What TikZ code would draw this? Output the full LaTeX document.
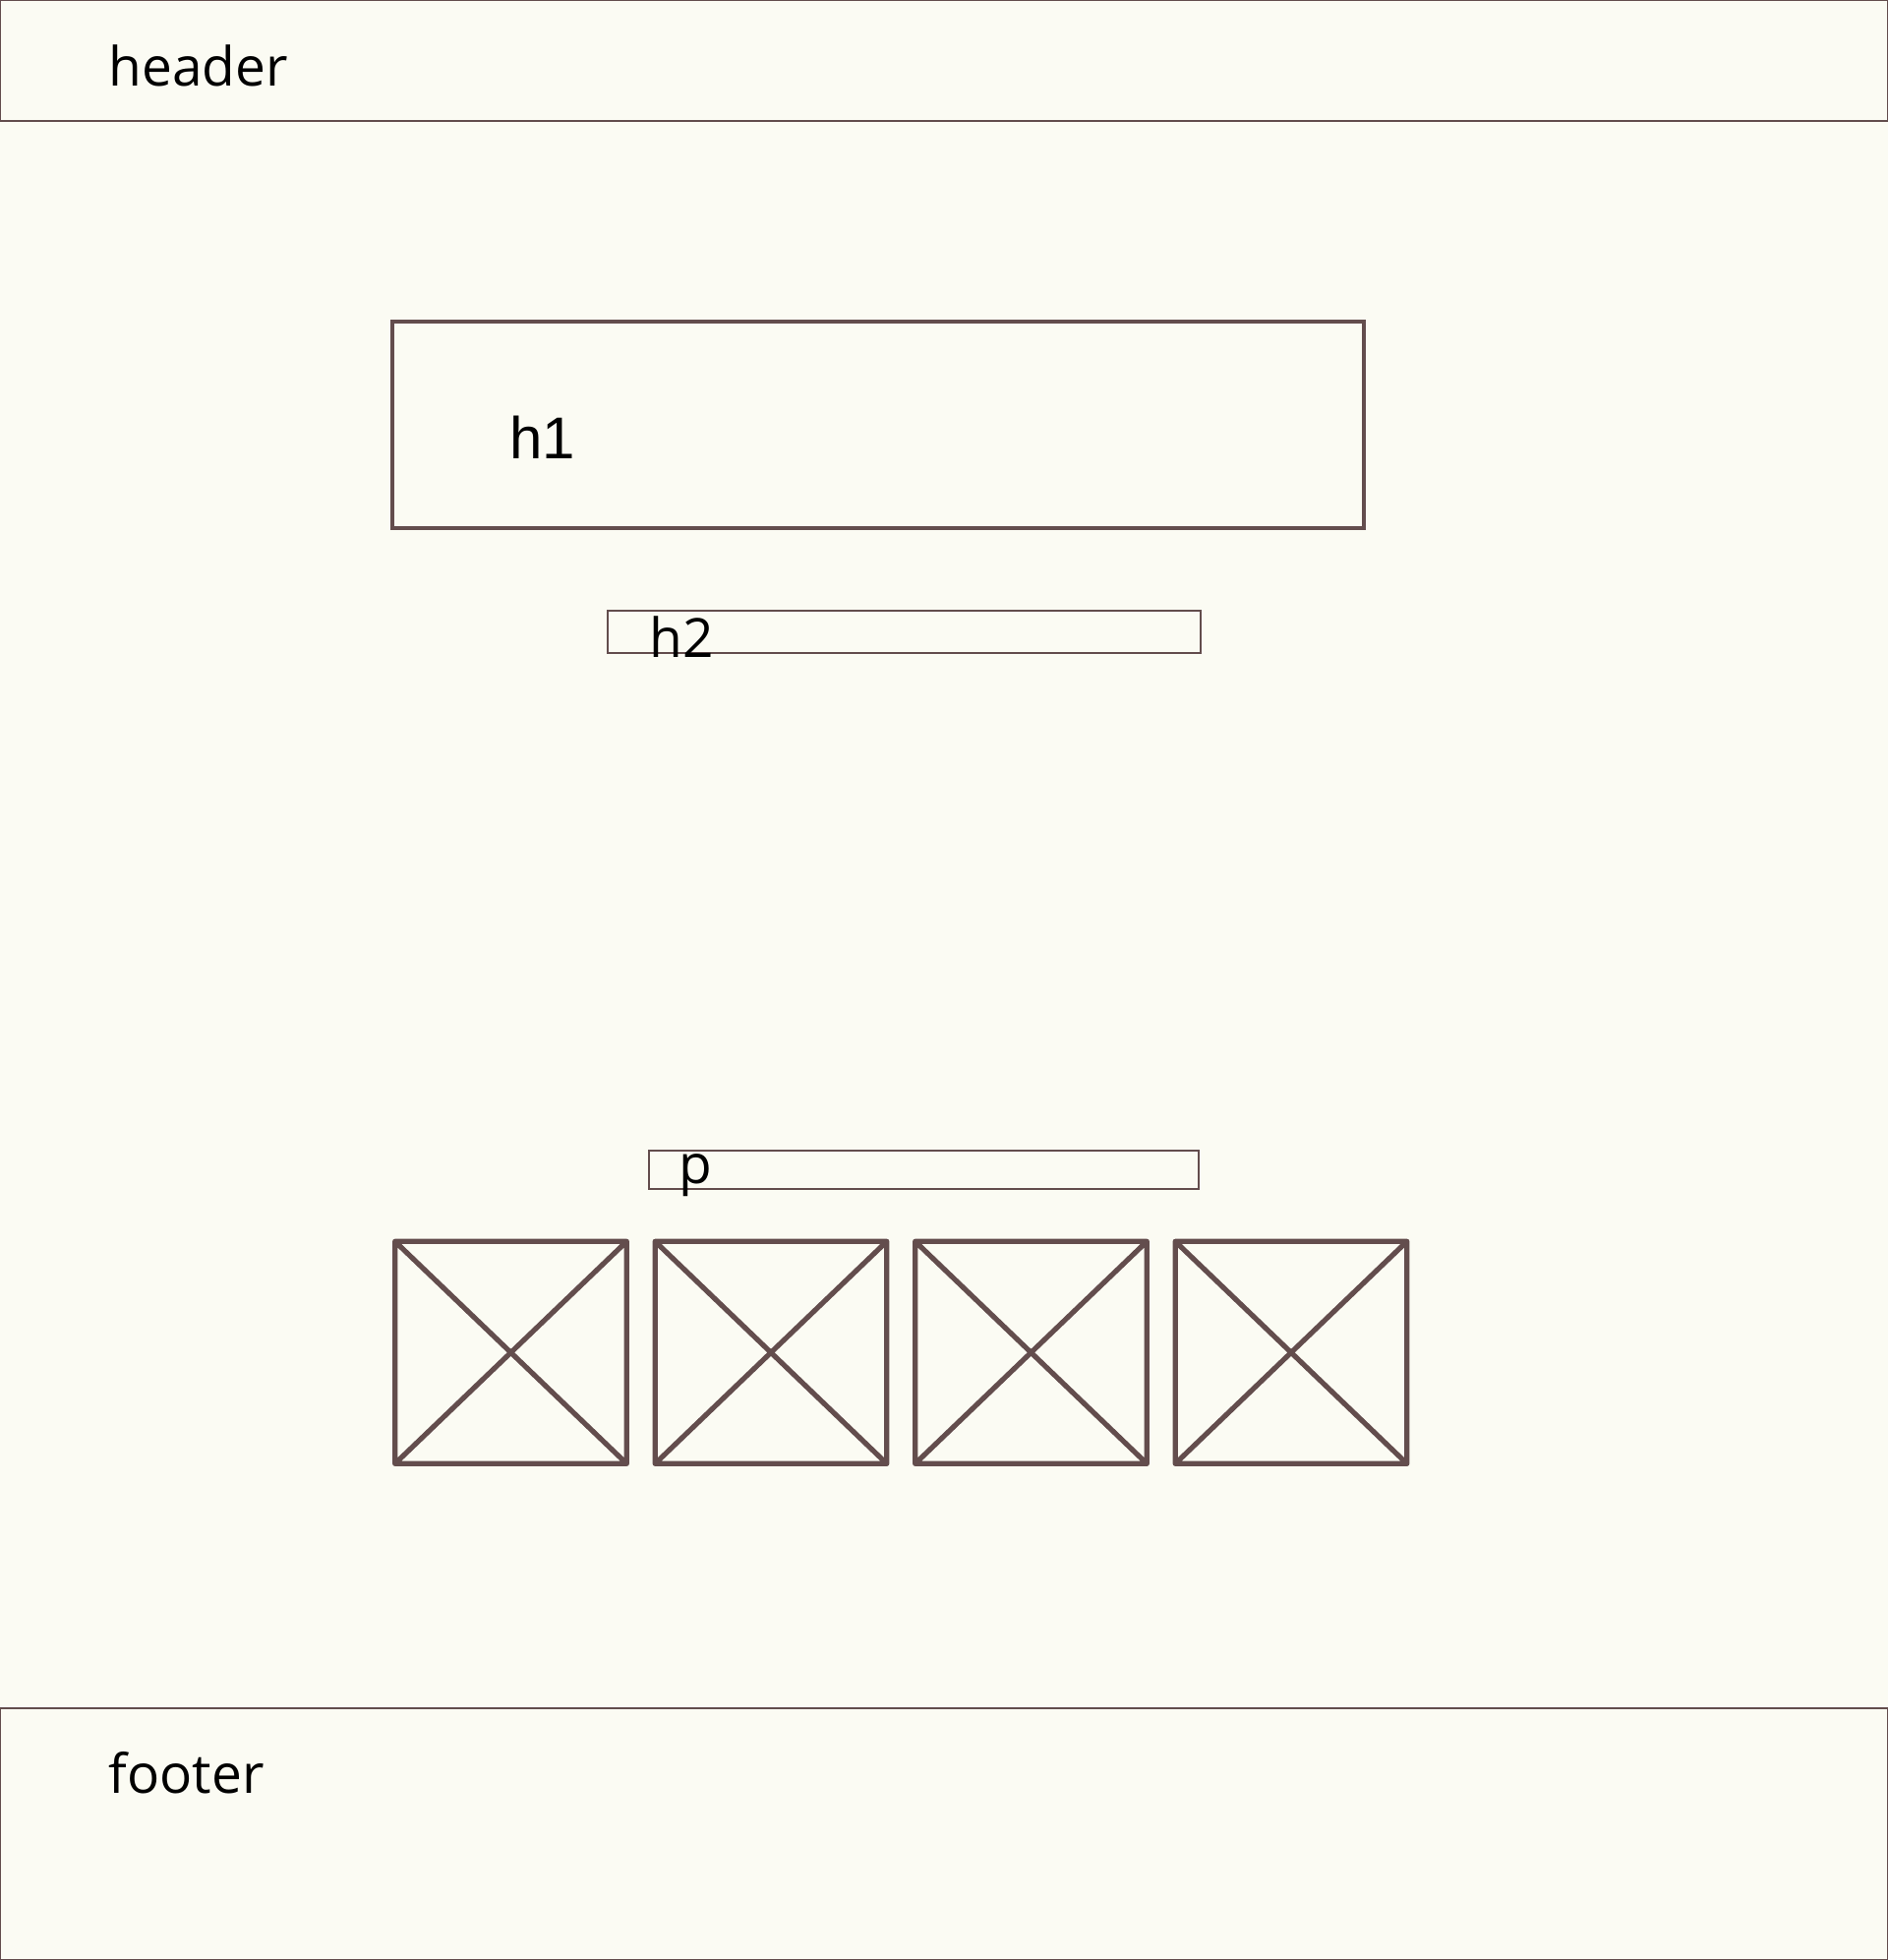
\documentclass[tikz,border=0pt]{standalone}
\usepackage{fontspec}
\setmainfont{Open Sans}
\newfontfamily\hfont{Liberation Sans}
\definecolor{paper}{RGB}{251,251,243}
\definecolor{wire}{RGB}{99,77,77}
\tikzset{
  thinbox/.style={draw=wire,line width=0.7pt},
  thickbox/.style={draw=wire,line width=2pt},
  imgbox/.style={draw=wire,line width=2.6pt,line cap=round,line join=round},
  label/.style={inner sep=0pt,anchor=base west,font=\fontsize{27.5}{30}\selectfont}
}
\begin{document}
\begin{tikzpicture}[x=0.5pt,y=-0.5pt]
        \fill[paper] (0,0) rectangle (1920,1993);
        \useasboundingbox (0,0) rectangle (1920,1993);
        \draw[thinbox] (0.5,0.5) rectangle (1919.5,123) node (header) [label] at (110,87) {header};
        \draw[thickbox] (399,327) rectangle (1387,537) node (h1) [label,font=\hfont\fontsize{30}{32}\selectfont] at (516,466) {h1};
        \draw[thinbox] (618,621) rectangle (1221,664) node (h2) [label] at (660,668) {h2};
        \draw[thinbox] (660,1170) rectangle (1219,1209) node (p) [label] at (690,1203) {p};
        \foreach \x in {401.7,666.2,930.7,1195.2} % images
          \draw[imgbox] (\x,1262.3) rectangle ++(235.6,226) -- ++(-235.6,-226) ++(0,226) -- ++(235.6,-226);
        \draw[thinbox] (0.5,1737) rectangle (1919.5,1992.5) node (footer) [label] at (110,1823) {footer};
\end{tikzpicture}
\end{document}
